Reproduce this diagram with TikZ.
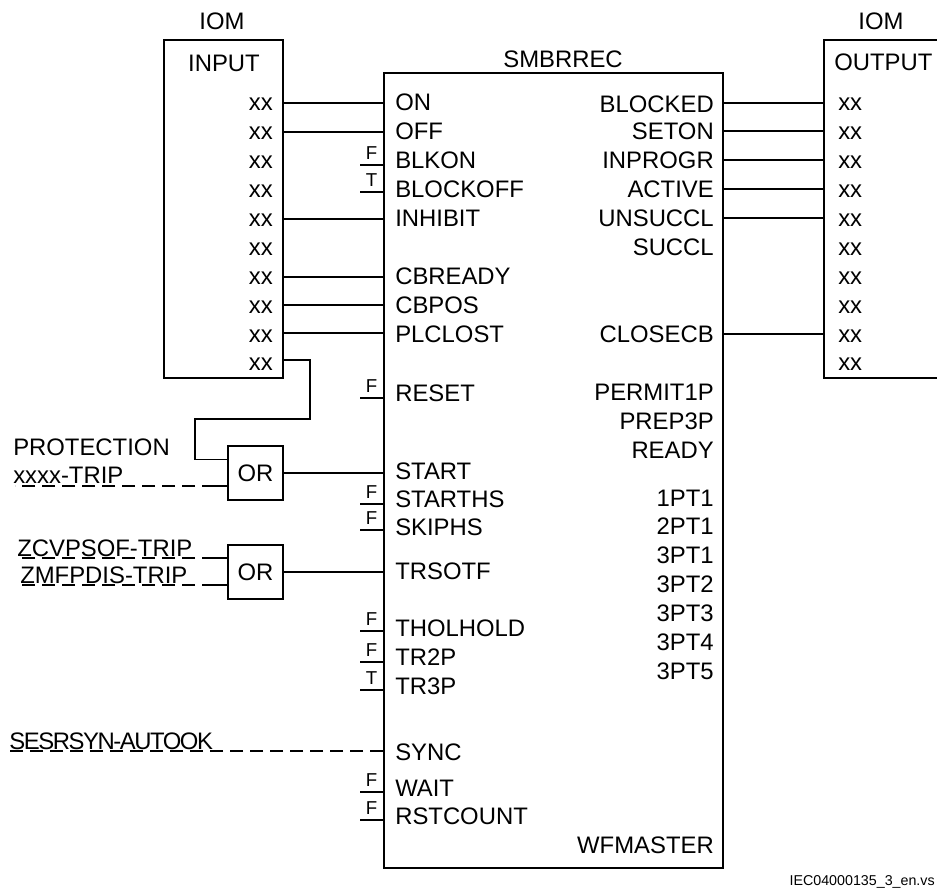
\documentclass[tikz,border=0pt]{standalone}
\usepackage{fontspec}
\setmainfont{Liberation Sans}
\newcommand{\lbl}{\fontsize{17.9}{20}\selectfont}
\newcommand{\smalllbl}{\fontsize{14}{16}\selectfont}
\newcommand{\tinylbl}{\fontsize{10.7}{12}\selectfont}
\tikzset{
  wire/.style={line width=1.2pt,line cap=rect,line join=miter},
  dashwire/.style={line width=1.2pt,dash pattern=on 9.75pt off 5.25pt},
  blockbox/.style={draw,line width=1.2pt,inner sep=0pt,rectangle},
  txt/.style={inner sep=0pt,font=\lbl,anchor=base},
  txtl/.style={inner sep=0pt,font=\lbl,anchor=base west},
  txtr/.style={inner sep=0pt,font=\lbl,anchor=base east},
  val/.style={inner sep=0pt,font=\smalllbl,anchor=base},
}
\begin{document}
\begin{tikzpicture}[x=0.75pt,y=-0.75pt]
\useasboundingbox (0,0) rectangle (937,888);
% blocks
\node[blockbox,minimum width=339*0.75pt,minimum height=795*0.75pt] (main) at (553.5,470.5) {};
\node[blockbox,minimum width=119*0.75pt,minimum height=338*0.75pt] (iomin) at (223.5,209) {};
\node[inner sep=0pt,minimum width=113*0.75pt,minimum height=338*0.75pt] (iomout) at (880.5,209) {};
\draw[wire,line cap=butt] (iomout.north east) -- (iomout.north west) -- (iomout.south west) -- (iomout.south east);
\node[blockbox,minimum width=55*0.75pt,minimum height=54*0.75pt] (or1) at (255.5,473) {};
\node[blockbox,minimum width=55*0.75pt,minimum height=54*0.75pt] (or2) at (255.5,572) {};
\node[font=\lbl,inner sep=0pt] (ortxt1) at (255.5,473) {OR};
\node[font=\lbl,inner sep=0pt] (ortxt2) at (255.5,572) {OR};
% titles
\node[txt] (t1) at (222,30) {IOM};
\node[txt] (t2) at (881,30) {IOM};
\node[txt] (t3) at (224,71.5) {INPUT};
\node[txtl] (t4) at (834,71) {OUTPUT};
\node[txt] (t5) at (563,68) {SMBRREC};
% xx columns
\foreach \n/\y in {1/111,2/139,3/168,4/197,5/226,6/255,7/284,8/313,9/342,10/370}{
  \node[txtr] (xi\n) at (273,\y) {xx};
  \node[txtl] (xo\n) at (838,\y) {xx};
}
% left pin labels
\foreach \n/\y/\t in {a/111/ON,b/139/OFF,c/168/BLKON,d/197/BLOCKOFF,e/226/INHIBIT,f/284/CBREADY,g/313/CBPOS,h/342/PLCLOST,i/401/RESET,j/479/START,k/507/STARTHS,l/535/SKIPHS,m/579/TRSOTF,n/636/THOLHOLD,o/665/TR2P,p/694/TR3P,q/760/SYNC,r/796/WAIT,s/824/RSTCOUNT}{
  \node[txtl] (L\n) at (395,\y) {\t};
}
% right pin labels
\foreach \n/\y/\t in {a/113/BLOCKED,b/140/SETON,c/168/INPROGR,d/197/ACTIVE,e/226/UNSUCCL,f/255/SUCCL,g/342/CLOSECB,h/400/PERMIT1P,i/429/PREP3P,j/458/READY,k/506/1PT1,l/534/2PT1,m/563/3PT1,n/592/3PT2,o/621/3PT3,p/650/3PT4,q/679/3PT5,r/853/WFMASTER}{
  \node[txtr] (R\n) at (714,\y) {\t};
}
% pin rows
\foreach \n/\y in {ON/103,OFF/132,INH/219,CBR/277,CBP/305,PLC/333,BLD/103,SET/131,INP/160,ACT/189,UNS/218,CLO/334,SYN/751,A/486,B/558,C/585}{\coordinate (p\n) at (0,\y);}
% solid connectors
\foreach \p in {ON,OFF,INH,CBR,CBP,PLC}{\draw[wire] (iomin.east |- p\p) -- (main.west |- p\p);}
\foreach \p in {BLD,SET,INP,ACT,UNS,CLO}{\draw[wire] (main.east |- p\p) -- (iomout.west |- p\p);}
\draw[wire] (or1.east) -- (main.west |- or1.east);
\draw[wire] (or2.east) -- (main.west |- or2.east);
\coordinate (k1) at (310,360);
\coordinate (k2) at (195,419);
\coordinate (in1) at (228,459.5);
\draw[wire] (iomin.east |- k1) -- (k1) -- (k1 |- k2) -- (k2) -- (k2 |- in1) -- (in1);
% constant stubs
\foreach \n/\y/\t in {c/165/F,d/192/T,i/398/F,k/504/F,l/530/F,n/631/F,o/662/F,p/690/T,r/792/F,s/820/F}{
  \coordinate (s\n) at (360,\y);
  \draw[wire,line cap=butt] (s\n) -- (main.west |- s\n);
  \node[val] (v\n) at (371.5,\y-5.5) {\t};
}
% dashed inputs
\node[txtl] (prot) at (13,455) {PROTECTION};
\node[txtl] (xt) at (13,483) {xxxx-TRIP};
\node[txtl] (zc) at (17,556.5) {ZCVPSOF-TRIP};
\node[txtl] (zm) at (20,583) {ZMFPDIS-TRIP};
\node[txtl,font=\lbl\addfontfeatures{LetterSpace=-6}] (ses) at (9,749.5) {SESRSYN-AUTOOK};
\coordinate (eA) at (15,486);
\coordinate (eB) at (17,558);
\coordinate (eC) at (17,585);
\coordinate (eD) at (10,751);
\coordinate (mA) at (215,486);
\coordinate (mB) at (215,558);
\coordinate (mC) at (215,585);
\draw[wire,line cap=butt] (or1.west |- pA) -- (mA);
\draw[wire,line cap=butt] (or2.west |- pB) -- (mB);
\draw[wire,line cap=butt] (or2.west |- pC) -- (mC);
\draw[dashwire] (mA) -- (eA);
\draw[dashwire] (mB) -- (eB);
\draw[dashwire] (mC) -- (eC);
\draw[dashwire] (main.west |- pSYN) -- (eD);
% footer
\node[inner sep=0pt,font=\tinylbl,anchor=base east] (foot) at (935,885) {IEC04000135\_3\_en.vs};
\end{tikzpicture}
\end{document}
